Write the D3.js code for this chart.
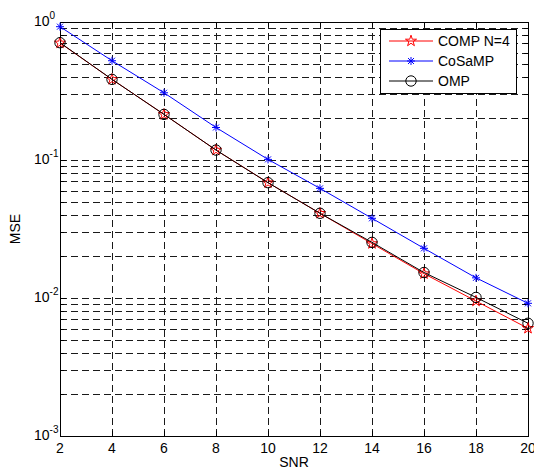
<!DOCTYPE html>
<html>
<head>
<meta charset="utf-8">
<script src="https://cdn.jsdelivr.net/npm/d3@7"></script>
<style>
  body { margin: 0; background: #fff; }
  text { font-family: "Liberation Sans", Arial, sans-serif; font-size: 14px; fill: #000; }
</style>
</head>
<body>
<div id="canvas"></div>
<script>
// data
var snr = [2, 4, 6, 8, 10, 12, 14, 16, 18, 20];
var compMse   = [0.705, 0.384, 0.214, 0.118, 0.0685, 0.0411, 0.0248, 0.0150, 0.0095, 0.00603];
var cosampMse = [0.925, 0.524, 0.307, 0.172, 0.101, 0.0623, 0.0378, 0.0229, 0.0140, 0.00915];
var ompMse    = [0.708, 0.384, 0.214, 0.118, 0.0685, 0.0411, 0.0253, 0.0153, 0.0101, 0.00656];
var yTickExps = [0, -1, -2, -3];
var seriesNames = ['COMP N=4', 'CoSaMP', 'OMP'];

var W = 534, H = 470;
var m = {t: 22, r: 6, b: 34, l: 60};

var svg = d3.select('#canvas')
  .append('svg')
  .attr('width', W)
  .attr('height', H);

var scaleX = d3.scaleLinear()
  .domain([2, 20])
  .range([m.l, W - m.r]);
var scaleY = d3.scaleLog()
  .domain([1e-3, 1])
  .range([H - m.b, m.t]);

var x0 = scaleX.range()[0], x1 = scaleX.range()[1],
    y0 = scaleY.range()[1], y1 = scaleY.range()[0];

// grid
var grid = svg.append('g')
  .attr('stroke', '#1a1a1a')
  .attr('stroke-width', 1)
  .attr('stroke-dasharray', '7,4');

grid.selectAll('.gx')
  .data(snr.slice(1, -1))
  .enter().append('line')
  .attr('x1', d => Math.round(scaleX(d)) + 0.5)
  .attr('x2', d => Math.round(scaleX(d)) + 0.5)
  .attr('y1', y0).attr('y2', y1);

var yMinor = scaleY.ticks().filter(d => d > 1e-3 && d < 1);
grid.selectAll('.gy')
  .data(yMinor)
  .enter().append('line')
  .attr('x1', x0).attr('x2', x1)
  .attr('y1', d => Math.round(scaleY(d)) + 0.5)
  .attr('y2', d => Math.round(scaleY(d)) + 0.5);

// tick marks, inside, all four sides
var ticks = svg.append('g').attr('stroke', '#000').attr('stroke-width', 1);
snr.forEach(function(d){
  var x = Math.round(scaleX(d)) + 0.5;
  ticks.append('line').attr('x1', x).attr('x2', x).attr('y1', y1).attr('y2', y1 - 5);
  ticks.append('line').attr('x1', x).attr('x2', x).attr('y1', y0).attr('y2', y0 + 5);
});
scaleY.ticks().forEach(function(d){
  var y = Math.round(scaleY(d)) + 0.5;
  var len = Number.isInteger(Math.log10(d)) ? 6 : 4;
  ticks.append('line').attr('x1', x0).attr('x2', x0 + len).attr('y1', y).attr('y2', y);
  ticks.append('line').attr('x1', x1).attr('x2', x1 - len).attr('y1', y).attr('y2', y);
});

// box
svg.append('rect')
  .attr('x', x0 + 0.5).attr('y', y0 + 0.5)
  .attr('width', x1 - x0).attr('height', y1 - y0)
  .attr('fill', 'none').attr('stroke', '#000');

// tick labels
svg.selectAll('.xl')
  .data(snr)
  .enter().append('text')
  .attr('x', d => scaleX(d))
  .attr('y', y1 + 17)
  .attr('text-anchor', 'middle')
  .text(d => d);

var yl = svg.selectAll('.yl')
  .data(yTickExps)
  .enter().append('text')
  .attr('x', x0 - 26)
  .attr('y', d => scaleY(Math.pow(10, d)) + 4);
yl.append('tspan').text('10');
yl.append('tspan')
  .attr('dy', -7)
  .style('font-size', '10px')
  .text(d => d);

// axis titles
svg.append('text')
  .attr('x', (x0 + x1) / 2)
  .attr('y', H - 3)
  .attr('text-anchor', 'middle')
  .text('SNR');
svg.append('text')
  .attr('transform', 'translate(20,' + (y0 + y1) / 2 + ') rotate(-90)')
  .attr('text-anchor', 'middle')
  .text('MSE');

// markers
function drawMarker(g, kind, color){
  if (kind === 'star') {
    g.append('path')
      .attr('d', d3.symbol(d3.symbolStar).size(38)())
      .attr('fill', 'none').attr('stroke', color);
  } else if (kind === 'asterisk') {
    var r = 4;
    g.append('path')
      .attr('d', 'M' + (-r) + ',0H' + r + 'M0,' + (-r) + 'V' + r +
                 'M' + (-r*0.75) + ',' + (-r*0.75) + 'L' + (r*0.75) + ',' + (r*0.75) +
                 'M' + (-r*0.75) + ',' + (r*0.75) + 'L' + (r*0.75) + ',' + (-r*0.75))
      .attr('fill', 'none').attr('stroke', color);
  } else {
    g.append('circle').attr('r', 5.2)
      .attr('fill', 'none').attr('stroke', color);
  }
}

var series = [
  {name: seriesNames[0], values: compMse, color: '#ff0000', marker: 'star'},
  {name: seriesNames[1], values: cosampMse, color: '#0000ff', marker: 'asterisk'},
  {name: seriesNames[2], values: ompMse, color: '#000000', marker: 'circle'}
];

var line = d3.line()
  .x(d => scaleX(d[0]))
  .y(d => scaleY(d[1]));

series.forEach(function(s){
  var pts = snr.map((x, i) => [x, s.values[i]]);
  svg.append('path')
    .datum(pts)
    .attr('d', line)
    .attr('fill', 'none')
    .attr('stroke', s.color)
    .attr('stroke-width', 1);
  pts.forEach(function(p){
    var g = svg.append('g')
      .attr('transform', 'translate(' + scaleX(p[0]) + ',' + scaleY(p[1]) + ')');
    drawMarker(g, s.marker, s.color);
  });
});

// legend
var lg = svg.append('g').attr('transform', 'translate(380,29)');
lg.append('rect')
  .attr('x', 0.5).attr('y', 0.5)
  .attr('width', 136).attr('height', 64)
  .attr('fill', '#fff').attr('stroke', '#000');
series.forEach(function(s, i){
  var y = 12 + i * 20;
  var g = lg.append('g').attr('transform', 'translate(0,' + y + ')');
  g.append('line')
    .attr('x1', 9).attr('x2', 53)
    .attr('y1', 0).attr('y2', 0)
    .attr('stroke', s.color);
  drawMarker(g.append('g').attr('transform', 'translate(31,0)'), s.marker, s.color);
  g.append('text')
    .attr('x', 58).attr('y', 5)
    .text(s.name);
});
</script>
</body>
</html>
